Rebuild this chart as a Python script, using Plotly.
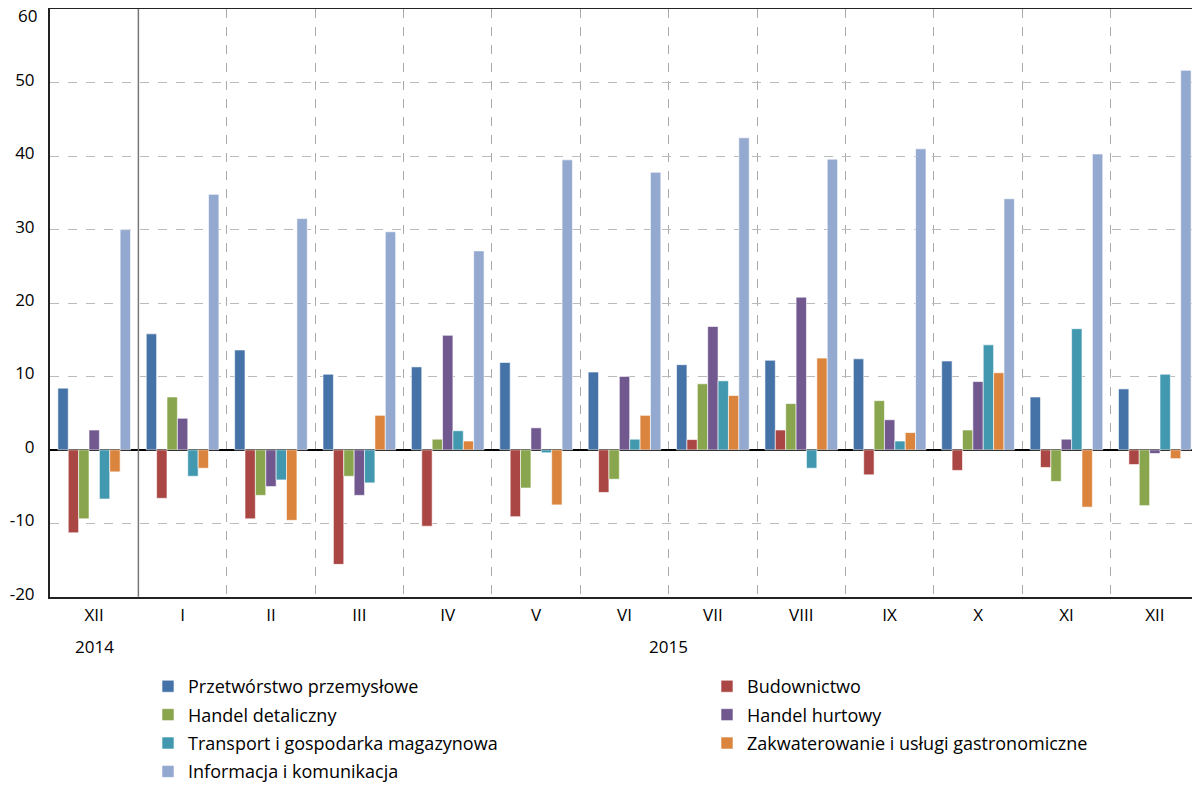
import plotly.graph_objects as go

months = ["XII", "I", "II", "III", "IV", "V", "VI", "VII", "VIII", "IX", "X", "XI", "XII"]
years = ["2014", "2015"]
y_ticks = [-20, -10, 0, 10, 20, 30, 40, 50, 60]
y_ticktext = ["-20", "-10", "0", "10", "20", "30", "40", "50", "60"]

przetworstwo = [8.4, 15.8, 13.6, 10.3, 11.3, 11.9, 10.6, 11.6, 12.2, 12.4, 12.1, 7.2, 8.3]
budownictwo = [-11.3, -6.6, -9.4, -15.6, -10.4, -9.1, -5.8, 1.4, 2.7, -3.4, -2.8, -2.4, -2.0]
handel_det = [-9.4, 7.2, -6.2, -3.6, 1.45, -5.2, -4.0, 9.0, 6.3, 6.7, 2.7, -4.3, -7.6]
handel_hurt = [2.7, 4.3, -5.0, -6.2, 15.6, 3.0, 10.0, 16.8, 20.8, 4.1, 9.3, 1.45, -0.5]
transport = [-6.7, -3.6, -4.1, -4.5, 2.6, -0.4, 1.45, 9.4, -2.5, 1.2, 14.3, 16.5, 10.3]
zakwaterowanie = [-3.0, -2.5, -9.6, 4.7, 1.2, -7.5, 4.7, 7.4, 12.5, 2.35, 10.5, -7.8, -1.2]
informacja = [30.0, 34.8, 31.5, 29.7, 27.1, 39.5, 37.8, 42.5, 39.6, 41.0, 34.2, 40.3, 51.7]

# (name, values, colour, legend column)
series = [
    ("Przetwórstwo przemysłowe", przetworstwo, "#4572A7", "legend"),
    ("Budownictwo", budownictwo, "#AA4643", "legend2"),
    ("Handel detaliczny", handel_det, "#89A54E", "legend"),
    ("Handel hurtowy", handel_hurt, "#71588F", "legend2"),
    ("Transport i gospodarka magazynowa", transport, "#4198AF", "legend"),
    ("Zakwaterowanie i usługi gastronomiczne", zakwaterowanie, "#DB843D", "legend2"),
    ("Informacja i komunikacja", informacja, "#93A9CF", "legend"),
]

x_idx = list(range(len(months)))
FONT = "Open Sans"
LEG_FONT = dict(family=FONT, size=18, color="black")
TICK_FONT = dict(family=FONT, size=17, color="black")

fig = go.Figure()
for i, (name, vals, color, leg) in enumerate(series):
    fig.add_trace(go.Bar(
        x=x_idx, y=vals, name=name, legend=leg, legendgroup=f"g{i}",
        marker=dict(color=color, line=dict(color="rgba(255,255,255,0.6)", width=1)),
    ))

leg_common = dict(
    orientation="v", xref="paper", yref="paper",
    xanchor="left", yanchor="top", y=0.1374,
    font=LEG_FONT, traceorder="grouped", tracegroupgap=2,
    bgcolor="rgba(0,0,0,0)",
)

# top tick label is drawn as an annotation so it is not clipped at the page edge
axis_ticktext = y_ticktext[:-1] + [""]

fig.update_layout(
    width=1200, height=785,
    margin=dict(l=42, r=9, t=1, b=20, autoexpand=False),
    plot_bgcolor="white", paper_bgcolor="white",
    barmode="group", bargap=0.178, bargroupgap=0,
    font=dict(family=FONT, size=17, color="black"),
    showlegend=True,
    legend=dict(x=0.0853, **leg_common),
    legend2=dict(x=0.5718, **leg_common),
    xaxis=dict(
        range=[-0.5, 12.5], automargin=False,
        tickmode="array", tickvals=x_idx, ticktext=months,
        showgrid=False, ticks="", ticklen=0, ticklabelstandoff=2,
        showline=True, linecolor="#222", linewidth=2, mirror=True,
        zeroline=False,
        tickfont=TICK_FONT,
        minor=dict(tickvals=[i + 0.5 for i in range(1, 12)], showgrid=True,
                   gridcolor="#aaaaaa", griddash="dash", gridwidth=1, ticks=""),
    ),
    yaxis=dict(
        domain=[0.2308, 1], automargin=False,
        range=[-20, 60.05], tickmode="array", tickvals=y_ticks, ticktext=axis_ticktext,
        showgrid=True, gridcolor="#bbbbbb", griddash="dash", gridwidth=1,
        zeroline=True, zerolinecolor="black", zerolinewidth=1.5,
        showline=True, linecolor="#222", linewidth=2, mirror=True,
        ticks="", ticklabelstandoff=10, ticklabelshift=-3, ticklabeloverflow="allow",
        tickfont=TICK_FONT,
    ),
)

fig.add_annotation(x=0, xref="paper", xanchor="right", xshift=-11,
                   y=y_ticks[-1], yref="y", yanchor="middle", yshift=-6,
                   text=y_ticktext[-1], showarrow=False, font=TICK_FONT)

fig.add_shape(type="line", xref="x", yref="y domain", x0=0.5, x1=0.5, y0=0, y1=1,
              line=dict(color="#777777", width=1.5))

fig.add_annotation(x=0, xref="x", y=0, yref="y domain", yshift=-50, text=years[0],
                   showarrow=False, yanchor="middle", font=TICK_FONT)
fig.add_annotation(x=6.5, xref="x", y=0, yref="y domain", yshift=-50, text=years[1],
                   showarrow=False, yanchor="middle", font=TICK_FONT)

fig.write_html("out.html")
